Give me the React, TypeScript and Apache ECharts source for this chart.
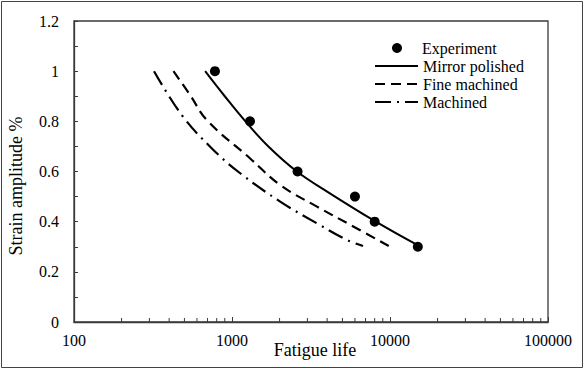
import React, { useEffect, useRef } from "react";
import * as echarts from "echarts";

const expX = [780, 1300, 2600, 6000, 8000, 15000];
const expY = [1.0, 0.8, 0.6, 0.5, 0.4, 0.3];

const mirrorX = [676, 900, 1216, 1700, 2576, 4000, 7890, 14870];
const mirrorY = [1.0, 0.9, 0.8, 0.7, 0.6, 0.52, 0.405, 0.307];

const fineX = [426, 543, 693, 1303, 2018, 3451, 5890, 9820];
const fineY = [1.0, 0.905, 0.805, 0.652, 0.546, 0.46, 0.38, 0.303];

const machX = [321, 481, 746, 1127, 2018, 3451, 5350, 6750];
const machY = [1.0, 0.825, 0.692, 0.593, 0.48, 0.393, 0.327, 0.303];

const minorXTicks = [
  200, 300, 400, 500, 600, 700, 800, 900,
  2000, 3000, 4000, 5000, 6000, 7000, 8000, 9000,
  20000, 30000, 40000, 50000, 60000, 70000, 80000, 90000,
];

const FONT = "Liberation Serif, Times New Roman, serif";
const AXIS_COLOR = "#3a3a3a";

const zip = (xs: number[], ys: number[]) => xs.map((x, i) => [x, ys[i]]);

export default function App() {
  const ref = useRef<HTMLDivElement>(null);
  useEffect(() => {
    document.body.style.margin = "0";
    const chart = echarts.init(ref.current!, null, { renderer: "svg" });
    chart.setOption({
      animation: false,
      backgroundColor: "#fff",
      textStyle: { fontFamily: FONT, color: "#000" },
      grid: {
        left: 74,
        right: 36,
        top: 21,
        bottom: 47,
        show: true,
        borderColor: AXIS_COLOR,
        borderWidth: 1.3,
      },
      xAxis: {
        type: "log",
        logBase: 10,
        min: 100,
        max: 100000,
        axisLine: { lineStyle: { color: AXIS_COLOR, width: 1.3 } },
        axisTick: { inside: true, length: 5, lineStyle: { color: AXIS_COLOR } },
        splitLine: { show: false },
        axisLabel: {
          color: "#000",
          fontFamily: FONT,
          fontSize: 16,
          margin: 10,
          formatter: (v: number) => String(v),
        },
      },
      yAxis: {
        type: "value",
        min: 0,
        max: 1.2,
        interval: 0.2,
        axisLine: { show: true, lineStyle: { color: AXIS_COLOR, width: 1.3 } },
        axisTick: { show: true, inside: true, length: 4, lineStyle: { color: AXIS_COLOR } },
        minorTick: { show: true, splitNumber: 2, length: 4, lineStyle: { color: AXIS_COLOR } },
        splitLine: { show: false },
        axisLabel: { color: "#000", fontFamily: FONT, fontSize: 16, margin: 15 },
      },
      legend: [
        {
          data: ["Experiment"],
          orient: "vertical",
          left: 387,
          top: 35,
          itemWidth: 10,
          itemHeight: 10,
          icon: "circle",
          itemStyle: { color: "#000" },
          textStyle: { fontFamily: FONT, fontSize: 16, color: "#000", padding: [0, 0, 0, 15] },
        },
        {
          data: ["Mirror polished", "Fine machined", "Machined"],
          orient: "vertical",
          left: 369,
          top: 53,
          itemWidth: 43,
          itemHeight: 14,
          itemGap: 2,
          itemStyle: { opacity: 0 },
          textStyle: { fontFamily: FONT, fontSize: 16, color: "#000" },
        },
      ],
      graphic: [
        {
          type: "rect",
          shape: { x: 1.5, y: 1.5, width: 581, height: 366 },
          style: { fill: "none", stroke: "#444", lineWidth: 1 },
          silent: true,
        },
        {
          type: "text",
          x: 16,
          y: 186,
          rotation: Math.PI / 2,
          style: {
            text: "Strain amplitude %",
            fontFamily: FONT,
            fontSize: 18,
            fill: "#000",
            align: "center",
            verticalAlign: "middle",
          },
        },
        {
          type: "text",
          x: 315,
          y: 350,
          style: {
            text: "Fatigue life",
            fontFamily: FONT,
            fontSize: 18,
            fill: "#000",
            align: "center",
            verticalAlign: "middle",
          },
        },
      ],
      series: [
        {
          name: "Mirror polished",
          type: "line",
          data: zip(mirrorX, mirrorY),
          smooth: 0.4,
          symbol: "none",
          lineStyle: { color: "#000", width: 2 },
          itemStyle: { color: "#000" },
        },
        {
          name: "Fine machined",
          type: "line",
          data: zip(fineX, fineY),
          smooth: 0.4,
          symbol: "none",
          lineStyle: { color: "#000", width: 2.2, type: [10, 6] },
          itemStyle: { color: "#000" },
        },
        {
          name: "Machined",
          type: "line",
          data: zip(machX, machY),
          smooth: 0.4,
          symbol: "none",
          lineStyle: { color: "#000", width: 2.2, type: [16, 6, 2, 6] },
          itemStyle: { color: "#000" },
        },
        {
          name: "Experiment",
          type: "scatter",
          data: zip(expX, expY),
          symbol: "circle",
          symbolSize: 10,
          itemStyle: { color: "#000", opacity: 1 },
          z: 5,
        },
        {
          name: "minorTicks",
          type: "custom",
          silent: true,
          clip: false,
          data: minorXTicks.map((v) => [v, 0]),
          renderItem: (_params: any, api: any) => {
            const p = api.coord([api.value(0), api.value(1)]);
            return {
              type: "line",
              shape: { x1: p[0], y1: p[1], x2: p[0], y2: p[1] - 4 },
              style: { stroke: AXIS_COLOR, lineWidth: 1 },
            };
          },
        },
      ],
    });
    return () => chart.dispose();
  }, []);
  return (
    <div
      ref={ref}
      style={{ position: "absolute", left: 0, top: 0, width: 584, height: 369 }}
    />
  );
}
